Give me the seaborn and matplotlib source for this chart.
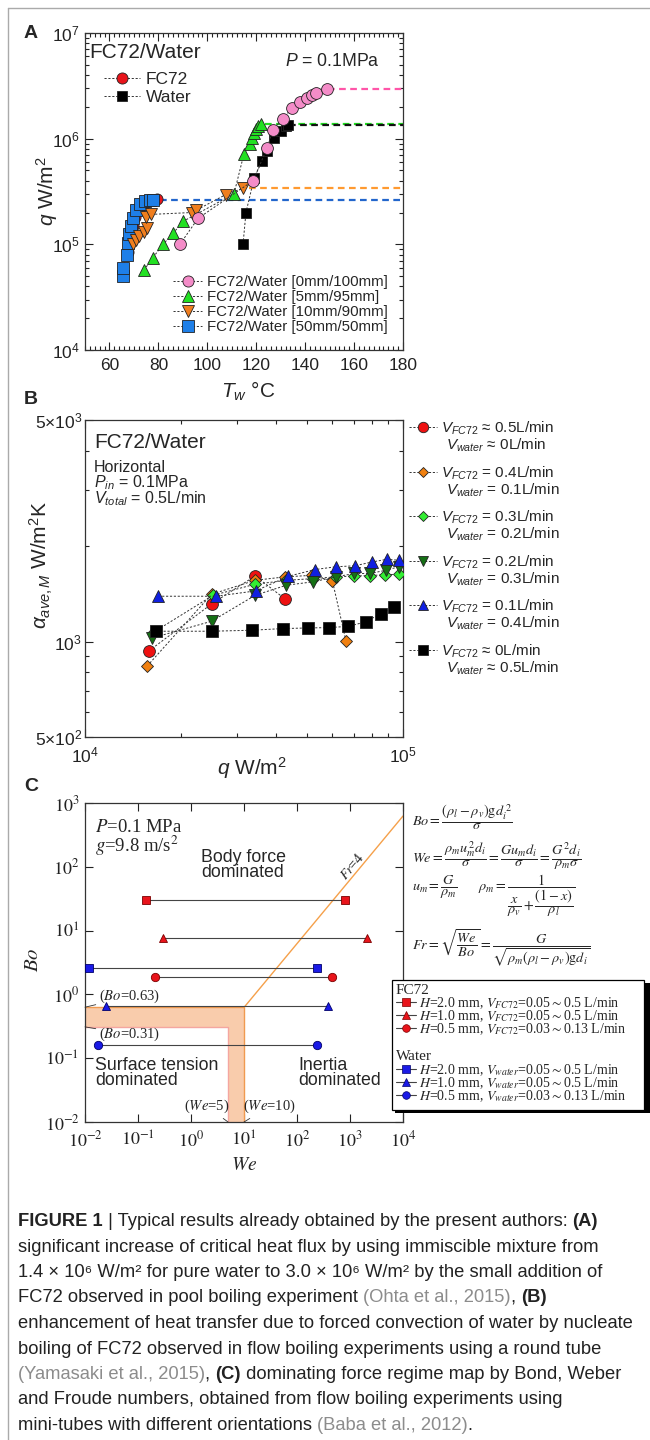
import numpy as np
import pandas as pd
import matplotlib
matplotlib.use("Agg")
import matplotlib.pyplot as plt
import seaborn as sns
from matplotlib.lines import Line2D
from matplotlib.patches import Rectangle, Polygon
from matplotlib import font_manager
import matplotlib.ticker as mticker

# ---------------- Panel A data (T_w in degC, q in W/m2) ----------------
a_fc72_T = [67.5, 68.5, 69.5, 70.5, 72.0, 74.0, 76.5, 79.4]
a_fc72_q = [8.5e4, 1.2e5, 1.5e5, 1.8e5, 2.1e5, 2.4e5, 2.6e5, 2.7e5]
a_0_T = [88.8, 96.2, 118.7, 124.4, 126.9, 131.0, 134.6, 137.9, 140.8, 142.8, 144.4, 148.9]
a_0_q = [1.0e5, 1.76e5, 4.0e5, 8.1e5, 1.22e6, 1.55e6, 1.95e6, 2.2e6, 2.4e6, 2.58e6, 2.7e6, 2.96e6]
a_5_T = [74.1, 77.8, 81.9, 86.0, 90.1, 110.9, 115.0, 117.5, 118.3, 119.1, 119.9, 120.7, 122.0]
a_5_q = [5.7e4, 7.5e4, 1.0e5, 1.27e5, 1.65e5, 3.0e5, 7.2e5, 9.0e5, 1.02e6, 1.12e6, 1.24e6, 1.32e6, 1.38e6]
a_10_T = [69.6, 71.0, 72.1, 74.0, 75.5, 74.9, 77.0, 93.7, 95.4, 107.6, 114.6]
a_10_q = [1.0e5, 1.1e5, 1.2e5, 1.3e5, 1.42e5, 1.8e5, 1.92e5, 2.0e5, 2.1e5, 2.96e5, 3.4e5]
a_50_T = [65.5, 65.5, 67.2, 67.6, 68.0, 68.8, 69.6, 70.9, 72.5, 74.5, 76.6, 77.8]
a_50_q = [5.0e4, 6.0e4, 7.9e4, 1.02e5, 1.24e5, 1.48e5, 1.76e5, 2.1e5, 2.4e5, 2.55e5, 2.6e5, 2.65e5]
a_w_T = [114.6, 115.8, 119.1, 122.4, 124.4, 127.3, 130.1, 132.2, 132.8]
a_w_q = [1.0e5, 2.0e5, 4.2e5, 6.2e5, 7.7e5, 1.02e6, 1.19e6, 1.32e6, 1.36e6]
# critical heat flux levels (dashed horizontal lines)
chf_q = [2.97e6, 1.39e6, 1.35e6, 3.45e5, 2.65e5]
chf_T0 = [149.5, 123.5, 133.5, 117.0, 80.5]
chf_T1 = 180.0
a_legend_top = ["FC72", "Water"]
a_legend_bot = ["FC72/Water [0mm/100mm]", "FC72/Water [5mm/95mm]",
                "FC72/Water [10mm/90mm]", "FC72/Water [50mm/50mm]"]

# ---------------- Panel B data (q W/m2, alpha W/m2K) ----------------
b_red_q = [1.59e4, 2.51e4, 3.43e4, 4.24e4]
b_red_a = [935, 1318, 1611, 1367]
b_or_q = [1.57e4, 2.5e4, 3.43e4, 4.26e4, 5.16e4, 6.0e4, 6.62e4]
b_or_a = [838, 1410, 1561, 1600, 1618, 1553, 1002]
b_lg_q = [1.65e4, 2.53e4, 3.43e4, 4.3e4, 5.2e4, 6.15e4, 7.0e4, 7.9e4, 8.8e4, 9.7e4]
b_lg_a = [1073, 1400, 1517, 1560, 1580, 1600, 1610, 1615, 1626, 1630]
b_dg_q = [1.63e4, 2.5e4, 3.43e4, 4.3e4, 5.2e4, 6.15e4, 7.03e4, 7.87e4, 8.83e4, 9.7e4]
b_dg_a = [1027, 1159, 1400, 1506, 1543, 1600, 1640, 1640, 1678, 1722]
b_bl_q = [1.70e4, 2.58e4, 3.44e4, 4.36e4, 5.28e4, 6.15e4, 7.06e4, 8.0e4, 8.9e4, 9.7e4]
b_bl_a = [1390, 1390, 1445, 1607, 1687, 1722, 1734, 1783, 1818, 1805]
b_bk_q = [1.67e4, 2.5e4, 3.36e4, 4.18e4, 5.04e4, 5.86e4, 6.73e4, 7.64e4, 8.5e4, 9.37e4]
b_bk_a = [1078, 1078, 1086, 1099, 1104, 1107, 1117, 1154, 1225, 1286]
b_lab1 = [r"$V_{FC72}$ ≈ 0.5L/min", r"$V_{FC72}$ = 0.4L/min", r"$V_{FC72}$ = 0.3L/min",
          r"$V_{FC72}$ = 0.2L/min", r"$V_{FC72}$ = 0.1L/min", r"$V_{FC72}$ ≈ 0L/min"]
b_lab2 = [r"$V_{water}$ ≈ 0L/min", r"$V_{water}$ = 0.1L/min", r"$V_{water}$ = 0.2L/min",
          r"$V_{water}$ = 0.3L/min", r"$V_{water}$ = 0.4L/min", r"$V_{water}$ ≈ 0.5L/min"]

# ---------------- Panel C data (We, Bo) ----------------
c_fc72_bo = [30.0, 7.6, 1.9]
c_fc72_we_min = [0.14, 0.29, 0.21]
c_fc72_we_max = [805, 2050, 451]
c_w_bo = [2.56, 0.66, 0.161]
c_w_we_min = [0.012, 0.0245, 0.0173]
c_w_we_max = [241, 380, 236]
c_markers = ["s", "^", "o"]
c_fc72_labels = [r"$H$=2.0 mm, $V_{FC72}$=0.05$\sim$0.5 L/min",
                 r"$H$=1.0 mm, $V_{FC72}$=0.05$\sim$0.5 L/min",
                 r"$H$=0.5 mm, $V_{FC72}$=0.03$\sim$0.13 L/min"]
c_w_labels = [r"$H$=2.0 mm, $V_{water}$=0.05$\sim$0.5 L/min",
              r"$H$=1.0 mm, $V_{water}$=0.05$\sim$0.5 L/min",
              r"$H$=0.5 mm, $V_{water}$=0.03$\sim$0.13 L/min"]
BO_UP, BO_LO = 0.63, 0.31
WE_LO, WE_UP = 5.0, 10.0
FR = 4.0
WE_MAXAX = 1e4

# ---------------- caption ----------------
caption = [
    [("FIGURE 1", "b"), (" | Typical results already obtained by the present authors: ", "n"), ("(A)", "b")],
    [("significant increase of critical heat flux by using immiscible mixture from", "n")],
    [("1.4 × 10⁶ W/m² for pure water to 3.0 × 10⁶ W/m² by the small addition of", "n")],
    [("FC72 observed in pool boiling experiment ", "n"), ("(Ohta et al., 2015)", "g"), (", ", "n"), ("(B)", "b")],
    [("enhancement of heat transfer due to forced convection of water by nucleate", "n")],
    [("boiling of FC72 observed in flow boiling experiments using a round tube", "n")],
    [("(Yamasaki et al., 2015)", "g"), (", ", "n"), ("(C)", "b"), (" dominating force regime map by Bond, Weber", "n")],
    [("and Froude numbers, obtained from flow boiling experiments using", "n")],
    [("mini-tubes with different orientations ", "n"), ("(Baba et al., 2012)", "g"), (".", "n")],
]

# ---------------- style ----------------
sns.set_theme(style="ticks")
plt.rcParams["font.family"] = ["Liberation Sans", "DejaVu Sans"]
plt.rcParams["mathtext.fontset"] = "custom"
plt.rcParams["mathtext.rm"] = "Liberation Sans"
plt.rcParams["mathtext.it"] = "Liberation Sans:italic"
plt.rcParams["mathtext.bf"] = "Liberation Sans:bold"
plt.rcParams["mathtext.sf"] = "Liberation Sans"
plt.rcParams["axes.linewidth"] = 0.9
names = {f.name for f in font_manager.fontManager.ttflist}
CAPFONT = "Liberation Sans Narrow" if "Liberation Sans Narrow" in names else "Liberation Sans"
SERIF = "Liberation Serif"

W, H = 650, 1440
fig = plt.figure(figsize=(W / 100, H / 100), dpi=100)
fig.patch.set_facecolor("white")


def fx(x):
    return x / W


def fy(y):
    return 1 - y / H


def fbox(l, t, r, b):
    return [l / W, 1 - b / H, (r - l) / W, (b - t) / H]


def style(ax):
    ax.tick_params(which="both", direction="in", top=True, right=True,
                   colors="#222222", width=0.8)
    ax.tick_params(which="major", length=6)
    ax.tick_params(which="minor", length=3)
    for s in ax.spines.values():
        s.set_color("#333333")
        s.set_linewidth(0.9)


DASH = (0, (2.2, 1.8))


def series(ax, x, y, marker, fc, ms, ec="#222222", mew=0.6, ls=DASH, lw=0.7, lc="#333333", z=3):
    sns.lineplot(x=x, y=y, ax=ax, sort=False, estimator=None, color=lc,
                 linestyle=ls, linewidth=lw, marker=marker, markersize=ms,
                 markerfacecolor=fc, markeredgecolor=ec, markeredgewidth=mew, zorder=z)


def key(handle, label, x, y, fs, hl, htp, family=None, math=None):
    prop = {"size": fs}
    if family:
        prop["family"] = family
    leg = fig.legend([handle], [label], loc="center left", bbox_to_anchor=(fx(x), fy(y)),
                     frameon=False, prop=prop, handlelength=hl, handletextpad=htp,
                     borderpad=0, borderaxespad=0, numpoints=1)
    if math:
        for t in leg.get_texts():
            t.set_math_fontfamily(math)
    return leg


def hnd(marker, fc, ms, ec="#222222", ls=DASH, lw=0.7, lc="#333333"):
    return Line2D([], [], color=lc, linestyle=ls, linewidth=lw, marker=marker, markersize=ms,
                  markerfacecolor=fc, markeredgecolor=ec, markeredgewidth=0.6)


# ======================= Panel A =======================
axA = fig.add_axes(fbox(85, 33, 403, 350))
style(axA)
axA.set_yscale("log")
c_pink, c_green, c_orange, c_blue = "#F48CC8", "#22E022", "#F07E1E", "#1E7FE8"
chf_colors = ["#FF55A8", "#22DD22", "#111111", "#FF9A30", "#2266CC"]
for q, t0, c in zip(chf_q, chf_T0, chf_colors):
    sns.lineplot(x=[t0, chf_T1], y=[q, q], ax=axA, color=c, linestyle=(0, (3, 2)),
                 linewidth=1.6, zorder=2)
series(axA, a_fc72_T, a_fc72_q, "o", "#E8141B", 8)
series(axA, a_50_T, a_50_q, "s", c_blue, 8)
series(axA, a_w_T, a_w_q, "s", "black", 7.5)
series(axA, a_5_T, a_5_q, "^", c_green, 8.5)
series(axA, a_10_T, a_10_q, "v", c_orange, 8.5)
series(axA, a_0_T, a_0_q, "o", c_pink, 8.5)
axA.set_xlim(50, 180)
axA.set_ylim(1e4, 1e7)
axA.set_xticks(range(60, 181, 20))
axA.set_xticklabels([str(v) for v in range(60, 181, 20)])
axA.xaxis.set_minor_locator(mticker.MultipleLocator(2))
axA.set_yticks([1e4, 1e5, 1e6, 1e7])
axA.set_yticklabels([r"$10^4$", r"$10^5$", r"$10^6$", r"$10^7$"])
axA.yaxis.set_minor_locator(mticker.LogLocator(base=10, subs=range(2, 10)))
axA.yaxis.set_minor_formatter(mticker.NullFormatter())
axA.tick_params(labelsize=12.5)
axA.tick_params(axis="x", pad=6)
axA.tick_params(axis="y", pad=4)
axA.set_xlabel("")
axA.set_ylabel("")

fig.text(fx(89), fy(52), "FC72/Water", fontsize=15, va="center", ha="left")
fig.text(fx(285), fy(62), r"$P$ = 0.1MPa", fontsize=12.7, va="center", ha="left")
key(hnd("o", "#E8141B", 8), a_legend_top[0], 104, 79, 12.5, 2.1, 0.3)
key(hnd("s", "black", 7.5), a_legend_top[1], 104, 97, 12.5, 2.1, 0.3)
for lab, (m, c), yy in zip(a_legend_bot, [("o", c_pink), ("^", c_green), ("v", c_orange), ("s", c_blue)],
                           [282, 297, 312, 327]):
    key(hnd(m, c, 8), lab, 173, yy, 10.8, 1.95, 0.35)
fig.text(fx(47), fy(191), r"$q$ W/m$^2$", rotation=90, fontsize=15, ha="center", va="center")
fig.text(fx(248), fy(391), r"$T_w$ °C", fontsize=15, ha="center", va="center")

# ======================= Panel B =======================
axB = fig.add_axes(fbox(85, 420, 403, 737))
style(axB)
axB.set_xscale("log")
axB.set_yscale("log")
b_cols = ["#EE1111", "#F08010", "#33EE33", "#157015", "#1020E0", "black"]
b_mk = ["o", "D", "D", "v", "^", "s"]
b_ms = [8.5, 6.5, 6.5, 8.5, 8.5, 8]
b_sets = [(b_red_q, b_red_a), (b_or_q, b_or_a), (b_lg_q, b_lg_a), (b_dg_q, b_dg_a),
          (b_bl_q, b_bl_a), (b_bk_q, b_bk_a)]
for (xq, ya), c, m, ms in zip(b_sets, b_cols, b_mk, b_ms):
    series(axB, xq, ya, m, c, ms)
axB.set_xlim(1e4, 1e5)
axB.set_ylim(500, 5000)
axB.set_xticks([1e4, 1e5])
axB.set_xticklabels([r"$10^4$", r"$10^5$"])
axB.xaxis.set_minor_locator(mticker.LogLocator(base=10, subs=range(2, 10)))
axB.xaxis.set_minor_formatter(mticker.NullFormatter())
axB.set_yticks([500, 1000, 5000])
axB.set_yticklabels([r"$5{\times}10^2$", r"$10^3$", r"$5{\times}10^3$"])
axB.yaxis.set_minor_locator(mticker.FixedLocator([600, 700, 800, 900, 2000, 3000, 4000]))
axB.yaxis.set_minor_formatter(mticker.NullFormatter())
axB.tick_params(labelsize=12.5)
axB.tick_params(axis="x", pad=6)
axB.tick_params(axis="y", pad=2)
axB.set_xlabel("")
axB.set_ylabel("")

fig.text(fx(94), fy(443), "FC72/Water", fontsize=15, va="center")
fig.text(fx(94), fy(467), "Horizontal", fontsize=11.5, va="center")
fig.text(fx(94), fy(483), r"$P_{in}$ = 0.1MPa", fontsize=11.5, va="center")
fig.text(fx(94), fy(499), r"$V_{total}$ = 0.5L/min", fontsize=11.5, va="center")
b_rows = [428, 473, 517, 562, 606, 651]
for i in range(6):
    key(hnd(b_mk[i], b_cols[i], b_ms[i] - 1), b_lab1[i], 409, b_rows[i], 11, 1.8, 0.3)
    fig.text(fx(446), fy(b_rows[i] + 17), b_lab2[i], fontsize=11, va="center", ha="left")
fig.text(fx(41), fy(565), r"$\alpha_{ave,M}$ W/m$^2$K", rotation=90, fontsize=15, ha="center", va="center")
fig.text(fx(252), fy(768), r"$q$ W/m$^2$", fontsize=15, ha="center", va="center")

# ======================= Panel C =======================
axC = fig.add_axes(fbox(85, 803, 403, 1122))
style(axC)
axC.set_xscale("log")
axC.set_yscale("log")
band = Polygon([(0.01, BO_UP), (WE_UP, BO_UP), (WE_UP, 0.01), (WE_LO, 0.01), (WE_LO, BO_LO), (0.01, BO_LO)],
               closed=True, facecolor="#F9CCAC", edgecolor="none", zorder=1)
axC.add_patch(band)
sns.lineplot(x=[0.01, WE_UP, WE_UP], y=[BO_UP, BO_UP, 0.01], ax=axC, sort=False, estimator=None,
             color="#F09A50", linewidth=1.0, zorder=2)
sns.lineplot(x=[0.01, WE_LO, WE_LO], y=[BO_LO, BO_LO, 0.01], ax=axC, sort=False, estimator=None,
             color="#F4A6A0", linewidth=1.0, zorder=2)
fr_we = np.array([WE_UP, WE_MAXAX])
sns.lineplot(x=fr_we, y=fr_we / FR ** 2, ax=axC, color="#F5A04A", linewidth=1.0, zorder=2)
for bo, w0, w1, m in zip(c_fc72_bo, c_fc72_we_min, c_fc72_we_max, c_markers):
    series(axC, [w0, w1], [bo, bo], m, "#E8141B", 6, ec="#7A0000", ls="-", lw=0.8, lc="#444444", z=4)
for bo, w0, w1, m in zip(c_w_bo, c_w_we_min, c_w_we_max, c_markers):
    series(axC, [w0, w1], [bo, bo], m, "#1A1AE6", 6, ec="#00006A", ls="-", lw=0.8, lc="#444444", z=4)
axC.set_xlim(1e-2, 1e4)
axC.set_ylim(1e-2, 1e3)
xdec = [1e-2, 1e-1, 1e0, 1e1, 1e2, 1e3, 1e4]
ydec = [1e-2, 1e-1, 1e0, 1e1, 1e2, 1e3]
axC.set_xticks(xdec)
axC.set_xticklabels([r"$10^{%d}$" % int(np.log10(v)) for v in xdec], fontsize=13,
                    fontfamily=SERIF, math_fontfamily="stix")
axC.set_yticks(ydec)
axC.set_yticklabels([r"$10^{%d}$" % int(np.log10(v)) for v in ydec], fontsize=13,
                    fontfamily=SERIF, math_fontfamily="stix")
axC.xaxis.set_minor_locator(mticker.NullLocator())
axC.yaxis.set_minor_locator(mticker.NullLocator())
axC.tick_params(axis="x", pad=6)
axC.tick_params(axis="y", pad=4)
axC.set_xlabel("")
axC.set_ylabel("")

ser = dict(fontfamily=SERIF, math_fontfamily="stix")
axC.annotate(r"($Bo$=0.63)", xy=(0.01, BO_UP), xytext=(0.0184, 0.92), fontsize=10.5, ha="left",
             va="center", arrowprops=dict(arrowstyle="-", lw=0.6, color="#333333", shrinkA=0, shrinkB=0), **ser)
axC.annotate(r"($Bo$=0.31)", xy=(0.01, BO_LO), xytext=(0.0184, 0.235), fontsize=10.5, ha="left",
             va="center", arrowprops=dict(arrowstyle="-", lw=0.6, color="#333333", shrinkA=0, shrinkB=0), **ser)
axC.annotate(r"($We$=5)", xy=(WE_LO, 0.01), xytext=(2.0, 0.0175), fontsize=10.5, ha="center",
             va="center", arrowprops=dict(arrowstyle="-", lw=0.6, color="#333333", shrinkA=0, shrinkB=0), **ser)
axC.annotate(r"($We$=10)", xy=(WE_UP, 0.01), xytext=(30.0, 0.0175), fontsize=10.5, ha="center",
             va="center", arrowprops=dict(arrowstyle="-", lw=0.6, color="#333333", shrinkA=0, shrinkB=0), **ser)

fig.text(fx(95), fy(828), r"$P$=0.1 MPa", fontsize=13.5, va="center", **ser)
fig.text(fx(95), fy(846), r"$g$=9.8 m/s$^2$", fontsize=13.5, va="center", **ser)
fig.text(fx(201), fy(849), "Body force\ndominated", fontsize=12.8, va="top", ha="left", linespacing=0.85)
fig.text(fx(95), fy(1057), "Surface tension\ndominated", fontsize=12.8, va="top", ha="left", linespacing=0.85)
fig.text(fx(298), fy(1057), "Inertia\ndominated", fontsize=12.8, va="top", ha="left", linespacing=0.85)
fig.text(fx(352), fy(866), r"$Fr$=4", fontsize=10, rotation=50, ha="center", va="center", **ser)
fig.text(fx(33), fy(960), r"$Bo$", rotation=90, fontsize=15, ha="center", va="center", **ser)
fig.text(fx(244), fy(1166), r"$We$", fontsize=14, ha="center", va="center", **ser)

# formulas
fsz = 10.3
fig.text(fx(412), fy(817), r"$Bo=\dfrac{(\rho_l-\rho_v)\mathrm{g}d_i^{\,2}}{\sigma}$",
         fontsize=fsz, va="center", math_fontfamily="stix")
fig.text(fx(412), fy(856), r"$We=\dfrac{\rho_m u_m^{\,2}d_i}{\sigma}=\dfrac{Gu_md_i}{\sigma}=\dfrac{G^2d_i}{\rho_m\sigma}$",
         fontsize=fsz, va="center", math_fontfamily="stix")
fig.text(fx(412), fy(896), r"$u_m=\dfrac{G}{\rho_m}\qquad\rho_m=\dfrac{1}{\dfrac{x}{\rho_v}+\dfrac{(1-x)}{\rho_l}}$",
         fontsize=fsz, va="center", math_fontfamily="stix")
fig.text(fx(412), fy(948), r"$Fr=\sqrt{\dfrac{We}{Bo}}=\dfrac{G}{\sqrt{\rho_m(\rho_l-\rho_v)\mathrm{g}d_i}}$",
         fontsize=fsz, va="center", math_fontfamily="stix")

# legend box for C
fig.add_artist(Rectangle((fx(395), fy(1113)), (647 - 392) / W, 130 / H, transform=fig.transFigure,
                         facecolor="black", edgecolor="none", zorder=5))
fig.add_artist(Rectangle((fx(392), fy(1110)), (644 - 392) / W, 130 / H, transform=fig.transFigure,
                         facecolor="white", edgecolor="black", linewidth=0.9, zorder=6))
fig.text(fx(396), fy(991), "FC72", fontsize=11, va="center", fontfamily=SERIF, zorder=7)
fig.text(fx(396), fy(1057), "Water", fontsize=11, va="center", fontfamily=SERIF, zorder=7)
for lab, m, yy in zip(c_fc72_labels, c_markers, [1003, 1016, 1029]):
    lg = key(Line2D([], [], color="#444444", lw=0.8, marker=m, markersize=5.5, markerfacecolor="#E8141B",
                    markeredgecolor="#7A0000", markeredgewidth=0.5), lab, 396, yy, 10, 1.45, 0.22,
             family=SERIF, math="stix")
    lg.set_zorder(8)
for lab, m, yy in zip(c_w_labels, c_markers, [1070, 1083, 1096]):
    lg = key(Line2D([], [], color="#444444", lw=0.8, marker=m, markersize=5.5, markerfacecolor="#1A1AE6",
                    markeredgecolor="#00006A", markeredgewidth=0.5), lab, 396, yy, 10, 1.45, 0.22,
             family=SERIF, math="stix")
    lg.set_zorder(8)

# ======================= panel letters & frame =======================
for lt, yy in zip(["A", "B", "C"], [34, 400, 787]):
    fig.text(fx(31), fy(yy), lt, fontsize=14, fontweight="bold", ha="center", va="center")
fig.add_artist(Line2D([fx(8), fx(8)], [fy(8), 0], color="#AAAAAA", lw=1.0, transform=fig.transFigure))
fig.add_artist(Line2D([fx(8), 1], [fy(8), fy(8)], color="#AAAAAA", lw=1.0, transform=fig.transFigure))

# ======================= caption =======================
renderer = fig.canvas.get_renderer()
capfam = [CAPFONT, "DejaVu Sans"]


def seg_width(s, size, weight):
    t = fig.text(0, 0, s + "|", fontsize=size, fontweight=weight, family=capfam)
    w1 = t.get_window_extent(renderer).width
    t.set_text("|")
    w2 = t.get_window_extent(renderer).width
    t.remove()
    return w1 - w2


ref_w = seg_width(caption[4][0][0], 10, "normal")
cap_size = 10 * 617.0 / ref_w
for i, line in enumerate(caption):
    x = 18.0
    base = 1226 + i * 25.5
    for s, kind in line:
        weight = "bold" if kind == "b" else "normal"
        color = "#8C8C8C" if kind == "g" else "#222222"
        fig.text(fx(x), fy(base), s, fontsize=cap_size, fontweight=weight, color=color,
                 family=capfam, va="baseline", ha="left")
        x += seg_width(s, cap_size, weight)

fig.savefig("out.png", dpi=100, facecolor="white")
